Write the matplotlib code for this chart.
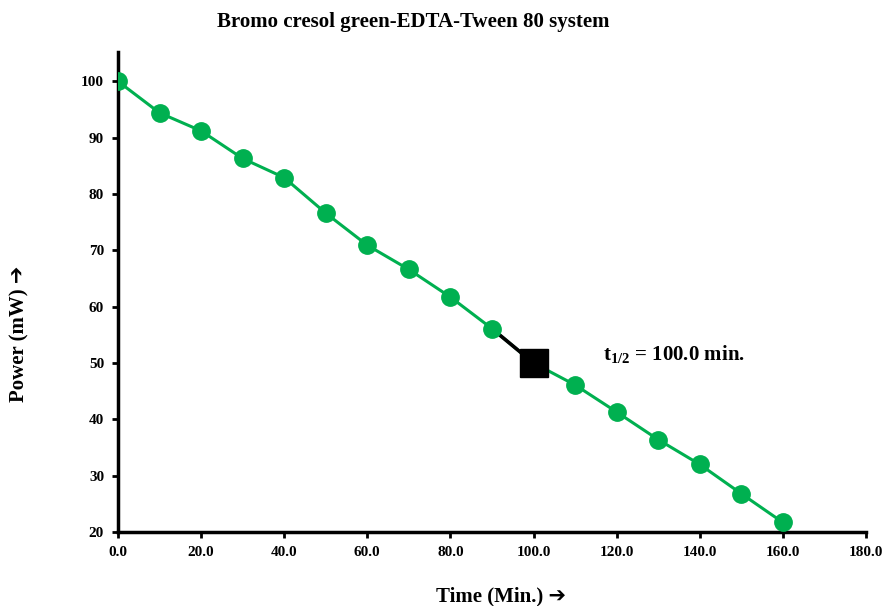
import matplotlib
matplotlib.use('Agg')
import matplotlib.pyplot as plt

# data
time_min = [0, 10, 20, 30, 40, 50, 60, 70, 80, 90, 100, 110, 120, 130, 140, 150, 160]
power_mw = [100.0, 94.4, 91.2, 86.3, 82.9, 76.6, 70.9, 66.6, 61.7, 56.1, 50.0,
            46.1, 41.3, 36.4, 32.0, 26.8, 21.7]
half_time = 100.0
half_power = 50.0
x_ticks = [0, 20, 40, 60, 80, 100, 120, 140, 160, 180]
y_ticks = [20, 30, 40, 50, 60, 70, 80, 90, 100]

green = '#00B050'
serif = ['Liberation Serif', 'DejaVu Sans']

plt.rcParams['font.family'] = serif
plt.rcParams['font.weight'] = 'bold'
plt.rcParams['mathtext.fontset'] = 'custom'
plt.rcParams['mathtext.rm'] = 'Liberation Serif:bold'
plt.rcParams['mathtext.bf'] = 'Liberation Serif:bold'
plt.rcParams['mathtext.it'] = 'Liberation Serif:bold'

fig = plt.figure(figsize=(8.85, 6.06), dpi=100)
ax = fig.add_axes([0.1333, 0.1221, 0.8452, 0.7921])

# green line through all points, circles on all but the half-life point
ax.plot(time_min, power_mw, color=green, lw=2.2, zorder=2)
pts_t = [t for t in time_min if t != half_time]
pts_p = [p for t, p in zip(time_min, power_mw) if t != half_time]
ax.plot(pts_t, pts_p, 'o', color=green, ms=12.5, zorder=3)

# black segment into the half-life point and the square marker
i = time_min.index(half_time)
ax.plot(time_min[i - 1:i + 1], power_mw[i - 1:i + 1], color='black', lw=2.6, zorder=2.5)
ax.plot([half_time], [half_power], 's', color='black', ms=20, zorder=4)

ax.text(116.8, 51.6, r'$\mathrm{t_{1/2}}$ = 100.0 min.', fontsize=15, fontweight='bold',
        va='center', ha='left')

ax.set_xlim(0, 180)
ax.set_ylim(20, 105.2)
ax.set_xticks(x_ticks)
ax.set_xticklabels([f'{v:.1f}' for v in x_ticks])
ax.set_yticks(y_ticks)
ax.set_yticklabels([str(v) for v in y_ticks])

for s in ['top', 'right']:
    ax.spines[s].set_visible(False)
for s in ['left', 'bottom']:
    ax.spines[s].set_linewidth(2.5)
ax.tick_params(width=2, length=4, labelsize=11, pad=6)
for lab in ax.get_xticklabels() + ax.get_yticklabels():
    lab.set_fontweight('bold')

fig.text(0.467, 0.963, 'Bromo cresol green-EDTA-Tween 80 system', ha='center', va='center',
         fontsize=15, fontweight='bold')
fig.text(0.566, 0.016, 'Time (Min.) \u2794', ha='center', va='center',
         fontsize=15, fontweight='bold')
fig.text(0.022, 0.449, 'Power (mW) \u2794', ha='center', va='center', rotation=90,
         fontsize=15, fontweight='bold')

fig.savefig('out.png', dpi=100)
